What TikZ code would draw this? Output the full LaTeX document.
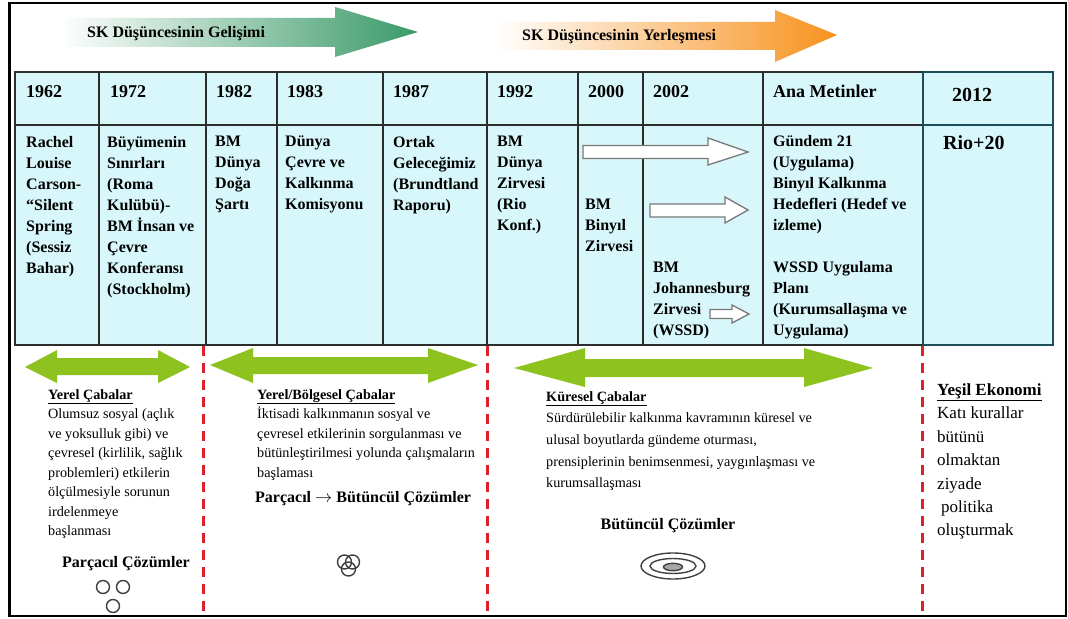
\documentclass[tikz,border=0pt]{standalone}
\usepackage{fontspec}
\setmainfont{Liberation Serif}
\definecolor{cellfill}{RGB}{216,247,251}
\definecolor{topgreen}{RGB}{58,154,104}
\definecolor{toporange}{RGB}{247,146,30}
\definecolor{limegreen}{RGB}{141,194,31}
\definecolor{dashred}{RGB}{222,32,42}
\definecolor{gridcol}{RGB}{45,45,45}
\definecolor{tealcol}{RGB}{30,78,92}
\definecolor{arrowgray}{RGB}{120,120,120}
\begin{document}
\begin{tikzpicture}[x=1bp,y=-1bp,
  toptext/.style={font=\fontsize{16bp}{19bp}\selectfont\bfseries, inner sep=0, anchor=base west},
  yeartext/.style={font=\fontsize{18bp}{21bp}\selectfont\bfseries, inner sep=0, anchor=base west},
  bigyear/.style={font=\fontsize{20bp}{24bp}\selectfont\bfseries, inner sep=0, anchor=base west},
  celltext/.style={font=\fontsize{16bp}{21bp}\selectfont\bfseries, inner sep=0, anchor=north west, align=left},
  lowtext/.style={font=\fontsize{14.2bp}{19.5bp}\selectfont, inner sep=0, anchor=north west, align=left},
  globtext/.style={font=\fontsize{14.2bp}{21.7bp}\selectfont, inner sep=0, anchor=north west, align=left},
  greentext/.style={font=\fontsize{17bp}{23.4bp}\selectfont, inner sep=0, anchor=north west, align=left},
  solutext/.style={font=\fontsize{16bp}{19bp}\selectfont\bfseries, inner sep=0},
  gridline/.style={draw=gridcol, line width=1.8bp},
  blockarrow/.style={fill=white, draw=arrowgray, line width=1.3bp, line join=miter},
  limearrow/.style={fill=limegreen, draw=none},
  sepline/.style={draw=dashred, line width=3bp, dash pattern=on 10bp off 7bp},
  ringline/.style={draw=black!75, line width=1.4bp}
]
\useasboundingbox (0,0) rectangle (1068,619);
\fill[white] (0,0) rectangle (1068,619);

% top gradient arrows
\shade[left color=white, middle color=topgreen!40, right color=topgreen]
  (60,18) -- (335,18) -- (335,7) -- (418,32) -- (335,57) -- (335,47) -- (60,47) -- cycle;
\shade[left color=white, middle color=toporange!45, right color=toporange]
  (495,22) -- (775,22) -- (775,10) -- (837,35) -- (775,62) -- (775,50) -- (495,50) -- cycle;
\node[toptext] (gelisim) at (87,38) {SK Düşüncesinin Gelişimi};
\node[toptext] (yerlesme) at (522,41) {SK Düşüncesinin Yerleşmesi};

% table
\fill[cellfill] (15,72) rectangle (1053,345);
\draw[gridline] (15,72) rectangle (923,345);
\draw[gridline] (15,125) -- (923,125);
\foreach \cx in {99,206,277,383,487,578,643,763} {
  \draw[gridline] (\cx,72) -- (\cx,345);
}
\draw[draw=tealcol, line width=1.8bp] (923,72) rectangle (1053,345);
\draw[draw=tealcol, line width=1.8bp] (923,125) -- (1053,125);

% header years
\node[yeartext] (y1962) at (26,98) {1962};
\node[yeartext] (y1972) at (110,98) {1972};
\node[yeartext] (y1982) at (216,98) {1982};
\node[yeartext] (y1983) at (287,98) {1983};
\node[yeartext] (y1987) at (393,98) {1987};
\node[yeartext] (y1992) at (497,98) {1992};
\node[yeartext] (y2000) at (588,98) {2000};
\node[yeartext] (y2002) at (653,98) {2002};
\node[yeartext] (yana) at (773,98) {Ana Metinler};
\node[bigyear] (y2012) at (952,102) {2012};

% body cells
\node[celltext] (c1) at (26,136) {Rachel\\Louise\\Carson-\\“Silent\\Spring\\(Sessiz\\Bahar)};
\node[celltext] (c2) at (107,136) {Büyümenin\\Sınırları\\(Roma\\Kulübü)-\\BM İnsan ve\\Çevre\\Konferansı\\(Stockholm)};
\node[celltext] (c3) at (215,136) {BM\\Dünya\\Doğa\\Şartı};
\node[celltext] (c4) at (285,136) {Dünya\\Çevre ve\\Kalkınma\\Komisyonu};
\node[celltext] (c5) at (393,136) {Ortak\\Geleceğimiz\\(Brundtland\\Raporu)};
\node[celltext] (c6) at (497,136) {BM\\Dünya\\Zirvesi\\(Rio\\Konf.)};
\node[celltext] (c7) at (585,199) {BM\\Binyıl\\Zirvesi};
\node[celltext] (c8) at (653,262) {BM\\Johannesburg\\Zirvesi\\(WSSD)};
\node[celltext] (c9) at (773,135) {Gündem 21\\(Uygulama)\\Binyıl Kalkınma\\Hedefleri (Hedef ve\\izleme)\\[21bp]WSSD Uygulama\\Planı\\(Kurumsallaşma ve\\Uygulama)};
\node[bigyear] (rio) at (943,150) {Rio+20};

% white block arrows in the table
\draw[blockarrow] (583,145.5) -- (708,145.5) -- (708,138) -- (748,152) -- (708,165) -- (708,158.5) -- (583,158.5) -- cycle;
\draw[blockarrow] (650,204) -- (725,204) -- (725,197) -- (748,210) -- (725,223) -- (725,217) -- (650,217) -- cycle;
\draw[blockarrow] (710,309.5) -- (732,309.5) -- (732,305) -- (749,314) -- (732,323) -- (732,318.5) -- (710,318.5) -- cycle;

% lime double arrows
\fill[limearrow] (25,367) -- (57,350) -- (57,358) -- (158,358) -- (158,350) -- (190,367) -- (158,383) -- (158,375) -- (57,375) -- (57,383) -- cycle;
\fill[limearrow] (210,365) -- (253,348) -- (253,357) -- (428,357) -- (428,348) -- (478,365) -- (428,383) -- (428,374) -- (253,374) -- (253,383) -- cycle;
\fill[limearrow] (514,368) -- (585,348) -- (585,359) -- (804,359) -- (804,348) -- (873,368) -- (804,387) -- (804,377) -- (585,377) -- (585,387) -- cycle;

% red dashed separators
\draw[sepline] (203,346) -- (203,612);
\draw[sepline] (487,346) -- (487,612);
\draw[sepline] (922,346) -- (922,612);

% lower texts
\node[lowtext] (local) at (48,389) {\textbf{\underline{Yerel Çabalar}}\\Olumsuz sosyal (açlık\\ve yoksulluk gibi) ve\\çevresel (kirlilik, sağlık\\problemleri) etkilerin\\ölçülmesiyle sorunun\\irdelenmeye\\başlanması};
\node[lowtext] (regional) at (257,389) {\textbf{\underline{Yerel/Bölgesel Çabalar}}\\İktisadi kalkınmanın sosyal ve\\çevresel etkilerinin sorgulanması ve\\bütünleştirilmesi yolunda çalışmaların\\başlaması};
\node[globtext] (global) at (546,391) {\textbf{\underline{Küresel Çabalar}}\\Sürdürülebilir kalkınma kavramının küresel ve\\ulusal boyutlarda gündeme oturması,\\prensiplerinin benimsenmesi, yaygınlaşması ve\\kurumsallaşması};
\node[greentext] (greeneco) at (937,383.5) {\textbf{\underline{Yeşil Ekonomi}}\\Katı kurallar\\bütünü\\olmaktan\\ziyade\\\hspace{4bp}politika\\oluşturmak};

\node[solutext, anchor=base west] (partial) at (62,567) {Parçacıl Çözümler};
\node[solutext, anchor=base west] (transition) at (255,502) {Parçacıl $\rightarrow$ Bütüncül Çözümler};
\node[solutext, anchor=base] (holistic) at (668,529) {Bütüncül Çözümler};

% symbols
\draw[ringline] (103,587) circle (6.5);
\draw[ringline] (123,587) circle (6.5);
\draw[ringline] (113,606) circle (6.5);

\draw[ringline] (344.5,562) circle (7);
\draw[ringline] (352.5,562) circle (7);
\draw[ringline] (348.5,569) circle (7);

\draw[ringline] (673,566) ellipse (32 and 13);
\draw[ringline] (673,566) ellipse (23 and 7.5);
\draw[ringline, fill=black!35] (673,567) ellipse (9.5 and 3.7);

% outer frame
\draw[line width=2.5bp] (9.5,3) rectangle (1066,616);
\end{tikzpicture}
\end{document}
